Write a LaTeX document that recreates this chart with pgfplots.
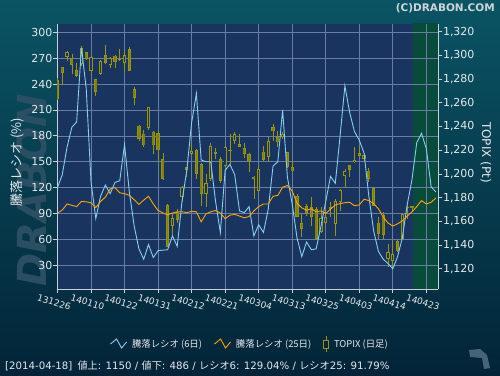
\documentclass[border=0pt]{standalone}
\usepackage{pgfplots}
\usepackage{pgfplotstable}
\pgfplotsset{compat=1.18}
\usepackage{fontspec}
\setmainfont{DejaVu Sans}
\newfontfamily\jp{Noto Sans CJK JP}
\pgfdeclarelayer{background}
\pgfsetlayers{background,main}
\definecolor{bgtop}{RGB}{10,84,100}
\definecolor{bgbot}{RGB}{3,36,56}
\definecolor{plotbg}{RGB}{26,52,96}
\definecolor{futurebg}{RGB}{8,74,60}
\definecolor{gridc}{RGB}{105,125,160}
\definecolor{axisc}{RGB}{200,208,218}
\definecolor{tickc}{RGB}{230,232,236}
\definecolor{r6c}{RGB}{135,206,240}
\definecolor{r25c}{RGB}{255,165,0}
\definecolor{cfill}{RGB}{130,130,0}
\definecolor{cline}{RGB}{150,150,20}
\definecolor{wmc}{RGB}{42,78,98}
\definecolor{copyc}{RGB}{205,212,216}
\definecolor{logoc}{RGB}{70,100,120}

\pgfplotsset{
  zigzag legend/.style={legend image code/.code={\draw[##1] (0pt,0pt) -- (6pt,5pt) -- (11pt,-4pt) -- (16pt,2pt);}},
  candle legend/.style={legend image code/.code={\draw[cline, line width=0.8pt] (3pt,-8pt) -- (3pt,8pt); \draw[cline, fill=bgbot, line width=0.8pt] (0.5pt,-4pt) rectangle (5.5pt,4pt);}},
  candle part/.style={draw=none, mark=none, forget plot, error bars/.cd, y dir=minus, y explicit, error mark=none},
}

% TOPIX daily candles: index, open, high, low, close
\pgfplotstableread{
i o h l c
0 1279 1281 1262 1263
1 1290.5 1290.5 1275 1285
3 1297.5 1301 1284 1292
4 1287.7 1293.3 1281.5 1282.6
6 1302.5 1303 1296 1297
8 1280 1280.5 1266 1269
10 1300.3 1308.5 1293 1293.8
12 1299.8 1300 1289 1294.2
15 1305.4 1307.4 1286.5 1287
16 1271.6 1273 1258.5 1264
17 1240.7 1241.5 1227.5 1229.5
18 1234 1237 1223 1224
20 1235.6 1236 1217 1224
21 1234.5 1236 1210.6 1220
22 1212.6 1217.4 1195.1 1195.7
23 1173.8 1174.6 1138 1138.6
25 1167.6 1170.4 1159 1161
27 1205.5 1206 1197 1203.6
29 1220 1221 1195.7 1200
30 1208 1209 1173 1183
33 1218.8 1221.9 1212.6 1217
34 1212.6 1214.5 1192 1194.3
36 1220.2 1233.7 1208.4 1219
38 1225 1233.7 1222.4 1223
39 1221.6 1226 1213.4 1216.8
40 1216.8 1218 1201.3 1210.6
41 1197.7 1198 1179 1195.7
43 1218.8 1223.8 1211.2 1211.7
45 1239.3 1242 1228 1236
46 1231.7 1236.5 1223 1226.6
48 1218.2 1218.8 1205 1205.5
49 1206 1211 1202 1202.2
50 1181.6 1183 1163.4 1163.9
51 1158.6 1166.2 1147 1153.5
52 1173 1174.6 1164.8 1166
53 1171.8 1180.8 1156.3 1163.9
54 1170.4 1172.4 1145 1145.1
57 1172.4 1176 1163.9 1170
61 1207.8 1207.8 1197.1 1203.6
63 1217.6 1223.3 1214 1215.4
65 1202.7 1205 1192.9 1195.7
66 1187.8 1188.7 1173 1173.2
67 1159 1163.9 1145.1 1149.3
68 1165.3 1167.6 1145.1 1148.7
71 1143.7 1144.2 1133.8 1134.7
74 1172.6 1173 1169 1171
}\cdown
\pgfplotstableread{
i o h l c
2 1299 1303.3 1295.5 1302.6
5 1293 1308 1291 1306
7 1287 1299.5 1285 1298.4
9 1284.3 1295.8 1283.5 1295.3
11 1292 1299 1289 1297.5
13 1296 1305 1295 1297
14 1293.8 1304 1287 1300.3
19 1238.7 1256.5 1237 1256.2
24 1156.3 1166.7 1146.5 1162.5
26 1180.2 1189.5 1176 1189.2
28 1217 1225.8 1216 1219.6
31 1183 1200 1172 1192
32 1195.7 1225.8 1194.3 1223.8
35 1207 1223.8 1205.5 1222.4
37 1228 1235 1225.2 1233.7
42 1186 1207 1185.5 1204
44 1214.5 1231.4 1211.2 1228.1
47 1230.9 1235 1229.5 1233.7
55 1150.7 1171.8 1149.8 1162.8
56 1158.3 1170.4 1157.7 1163.4
58 1157.7 1178.8 1147.9 1177.4
59 1176 1187.3 1168.4 1186.7
60 1198.5 1204.1 1188.7 1202.7
62 1209.8 1222.4 1209.5 1211.7
64 1212.6 1216.8 1211.2 1216
69 1128.2 1140.8 1121.7 1133.8
70 1126.8 1143.7 1121.2 1132.4
72 1145.1 1166.5 1145 1166.2
73 1172 1173.8 1162 1172.4
}\cup

\pgfplotstableread{
i r6 r25
0 120 90.5
1 135 94
2 167 101
3 190 99.5
4 196 98
5 282 104
6 235 103.5
7 127 102.5
8 84 97
9 110 104
10 123 109
11 113 118.5
12 126 120
13 128 114
14 170 113
15 115 111
16 76 106
17 49 100.5
18 37 105.5
19 54 110
20 39 101
21 47 93.5
22 47.5 90.7
23 48 88.5
24 64 90.5
25 52 92
26 104 92
27 140 91
28 195 92.5
29 229 92
30 152 80.3
31 150 89.5
32 150 92
33 104 93.5
34 68 90.5
35 140 84
36 147 88
37 135 89
38 93 87
39 91 85
40 98 86.5
41 64 93
42 77 98
43 68 101
44 95 101
45 145 110
46 150 111
47 210 120.5
48 132 122.5
49 101 116
50 62 102
51 40 96.5
52 57 93.8
53 48 95.5
54 49 92
55 75 93
56 104 90
57 133 95
58 125 100
59 180 101.5
60 238 102.5
61 207 103
62 185 99
63 175 100
64 160 106.5
65 110 105
66 70 101.5
67 46 95.5
68 37 86
69 32 79
70 26 75.5
71 40 78
72 62 81.5
73 100 87
74 129.04 91.79
75 172 98
76 183 105
77 165 101
78 121 103
79 115 108
}\ratios

\begin{document}
\begin{tikzpicture}
% background axis: plot area, grid, left axis, x axis
\begin{axis}[name=main, at={(0pt,0pt)}, anchor=south west, scale only axis, width=381.3pt, height=265pt,
  xmin=-0.1, xmax=79.5, ymin=2.5, ymax=309.6,
  axis background/.style={fill=plotbg},
  axis on top,
  axis lines*=left,
  axis line style={axisc, line width=0.8pt},
  grid=major, major grid style={gridc, line width=0.6pt},
  tick align=outside, major tick length=4pt, tick style={axisc, line width=0.8pt},
  xtick={0,7,...,77},
  xticklabels={131226,140110,140122,140131,140212,140221,140304,140313,140325,140403,140414,140423},
  xticklabel style={rotate=-17, anchor=center, yshift=-10pt, xshift=-0.5pt, font=\fontsize{9}{10}\selectfont, text=tickc},
  ytick={30,60,...,300},
  yticklabel style={font=\fontsize{11}{12}\selectfont, text=tickc, inner sep=0.5pt},
  /pgf/number format/assume math mode=true,
]
\addplot[fill=futurebg, draw=none] coordinates {(74.3,330) (79.6,330)} \closedcycle;
\end{axis}

% TOPIX candles on the right axis
\begin{axis}[at={(main.south west)}, anchor=south west, scale only axis, width=381.3pt, height=265pt,
  xmin=-0.1, xmax=79.5, ymin=1102.9, ymax=1326.5,
  hide x axis, axis y line*=right,
  axis line style={axisc, line width=0.8pt},
  tick align=outside, major tick length=4pt, tick style={axisc, line width=0.8pt},
  ytick={1120,1140,...,1320},
  yticklabel style={font=\fontsize{11}{12}\selectfont, text=tickc, inner sep=0.5pt},
  /pgf/number format/assume math mode=true,
  /pgf/number format/1000 sep={,},
]
% wicks
\addplot[candle part, error bar style={draw=cline, line width=0.7pt}]
  table[x=i, y=h, y error minus expr=\thisrow{h}-\thisrow{l}] {\cdown};
\addplot[candle part, error bar style={draw=cline, line width=0.7pt}]
  table[x=i, y=h, y error minus expr=\thisrow{h}-\thisrow{l}] {\cup};
% falling days: filled bodies (outline, then fill)
\addplot[candle part, error bar style={draw=cline, line width=3.2pt}]
  table[x=i, y=o, y error minus expr={max(\thisrow{o}-\thisrow{c},0.8)}] {\cdown};
\addplot[candle part, error bar style={draw=cfill, line width=1.6pt}]
  table[x=i, y expr=\thisrow{o}-0.6, y error minus expr={max(\thisrow{o}-\thisrow{c}-1.2,0)}] {\cdown};
% rising days: hollow bodies
\addplot[candle part, error bar style={draw=cline, line width=3.2pt}]
  table[x=i, y=c, y error minus expr={max(\thisrow{c}-\thisrow{o},0.8)}] {\cup};
\addplot[candle part, error bar style={draw=plotbg, line width=1.4pt}]
  table[x=i, y expr=\thisrow{c}-0.85, y error minus expr={max(\thisrow{c}-\thisrow{o}-1.7,0)}] {\cup};
\end{axis}

% ratio lines and legend
\begin{axis}[at={(main.south west)}, anchor=south west, scale only axis, width=381.3pt, height=265pt,
  xmin=-0.1, xmax=79.5, ymin=2.5, ymax=309.6, hide axis,
  legend columns=3, legend cell align=left,
  legend style={at={(axis description cs:0.506,-0.2075)}, anchor=center, draw=none, fill=none,
    text=tickc, font=\jp\fontsize{9.4}{11}\selectfont,
    /tikz/every even column/.append style={column sep=10pt},
    /tikz/every odd column/.append style={column sep=3pt}},
]
\addplot[r6c, line width=0.9pt, zigzag legend] table[x=i, y=r6] {\ratios};
\addlegendentry{騰落レシオ (6日)}
\addplot[r25c, line width=0.9pt, zigzag legend] table[x=i, y=r25] {\ratios};
\addlegendentry{騰落レシオ (25日)}
\addlegendimage{candle legend}
\addlegendentry{TOPIX (日足)}
\end{axis}

\begin{scope}[shift={(main.south west)}, shift={(-57pt,-86pt)}]
\begin{pgfonlayer}{background}
\shade[top color=bgtop, bottom color=bgbot] (0pt,0pt) rectangle (500pt,375pt);
\node[rotate=90, text=wmc, font=\bfseries\itshape\fontsize{40}{40}\selectfont, inner sep=0] at (32pt,185pt) {DRABON};
\end{pgfonlayer}
\node[anchor=east, inner sep=0, text=copyc, font=\bfseries\fontsize{10.5}{12}\selectfont] at (495pt,366.5pt) {(C)DRABON.COM};
\node[rotate=90, inner sep=0, text=tickc, font=\jp\fontsize{13}{14}\selectfont] at (17pt,213pt) {騰落レシオ (\%)};
\node[rotate=-90, inner sep=0, text=tickc, font=\fontsize{12}{13}\selectfont] at (486pt,222.5pt) {TOPIX (Pt)};
\node[anchor=west, inner sep=0, text=tickc, font=\fontsize{10.2}{12}\selectfont] at (5pt,9pt) {[2014-04-18]\enspace{\jp 値上}: 1150 / {\jp 値下}: 486 / {\jp レシオ}6: 129.04\% / {\jp レシオ}25: 91.79\%};
\fill[logoc] (469pt,25pt) -- (480pt,26pt) -- (487pt,20pt) -- (490pt,7pt) -- (484pt,6pt) -- (482pt,17pt) -- (470pt,18pt) -- cycle;
\pgfresetboundingbox
\useasboundingbox (0pt,0pt) rectangle (500pt,375pt);
\end{scope}
\end{tikzpicture}
\end{document}
